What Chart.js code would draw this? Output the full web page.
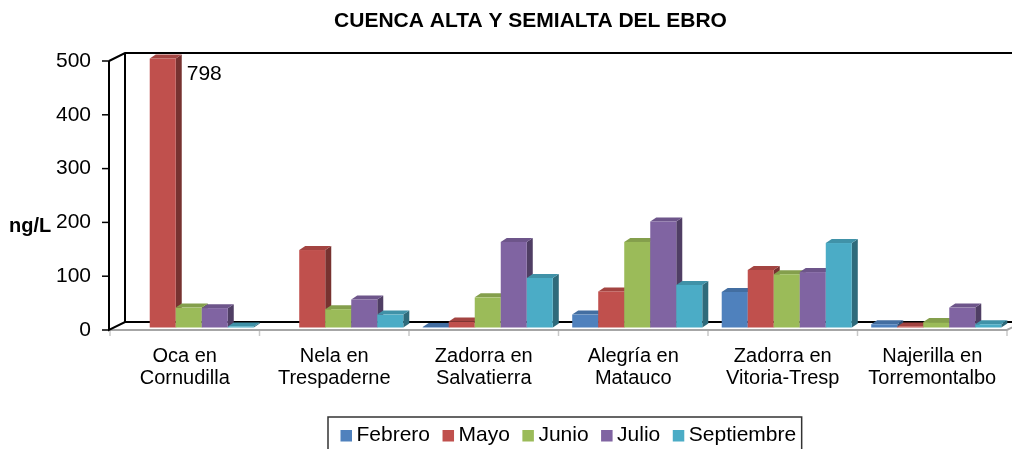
<!DOCTYPE html>
<html><head><meta charset="utf-8">
<script src="https://cdn.jsdelivr.net/npm/chart.js@4.4.0/dist/chart.umd.min.js"></script>
<style>html,body{margin:0;padding:0;background:#fff;overflow:hidden}</style>
</head><body>
<canvas id="c" width="1012" height="449"></canvas>
<script>
const categories = [['Oca en','Cornudilla'],['Nela en','Trespaderne'],['Zadorra en','Salvatierra'],['Alegría en','Matauco'],['Zadorra en','Vitoria-Tresp'],['Najerilla en','Torremontalbo']];
const seriesNames = ['Febrero','Mayo','Junio','Julio','Septiembre'];
const febrero = [null, null, 1, 24, 66, 6];
const mayo = [798, 144, 11, 67, 107, 2];
const junio = [37, 34, 56, 159, 99, 10];
const julio = [36, 52, 159, 197, 103, 37];
const septiembre = [2, 24, 92, 79, 157, 6];
const yTicks = [0, 100, 200, 300, 400, 500];
const titleText = 'CUENCA ALTA Y SEMIALTA DEL EBRO';
const yTitleText = 'ng/L';
const colors = ['#4F81BD','#C0504D','#9BBB59','#8064A2','#4BACC6'];

const FONT = '"Liberation Sans", Arial, sans-serif';
const dataSeries = [febrero, mayo, junio, julio, septiembre];
const Y_MAX = 500;
const DEPTH = {dx: 6, dy: -4};
const SHIFT = {dx: 4, dy: -2.5};
const WALL = {dx: 16, dy: -8};

function shade(hex, f){
  const n = parseInt(hex.slice(1), 16);
  const r = (n >> 16) & 255, g = (n >> 8) & 255, b = n & 255;
  return 'rgb(' + Math.round(r*f) + ',' + Math.round(g*f) + ',' + Math.round(b*f) + ')';
}

const excel3d = {
  id: 'excel3d',
  beforeDatasetsDraw(chart){
    const {ctx, chartArea: a} = chart;
    const W = chart.width;
    const fx = a.left - 1;
    const xs = chart.scales.x;
    const cw = (a.right - a.left) / categories.length;
    ctx.save();
    // front floor edge (grey)
    ctx.strokeStyle = '#a6a6a6'; ctx.lineWidth = 2;
    ctx.beginPath(); ctx.moveTo(fx, a.bottom); ctx.lineTo(a.right, a.bottom);
    ctx.lineTo(a.right + WALL.dx, a.bottom + WALL.dy); ctx.stroke();
    // category tick marks
    ctx.strokeStyle = '#c8c8c8'; ctx.lineWidth = 1.5;
    for (let k = 0; k <= categories.length; k++) {
      const x = xs.getPixelForValue(0) - cw/2 + k*cw;
      ctx.beginPath(); ctx.moveTo(x, a.bottom + 1); ctx.lineTo(x, a.bottom + 6); ctx.stroke();
    }
    // black frame
    ctx.strokeStyle = '#000'; ctx.lineWidth = 2;
    ctx.beginPath();
    ctx.moveTo(fx, a.top); ctx.lineTo(fx, a.bottom);
    ctx.lineTo(fx + WALL.dx, a.bottom + WALL.dy); ctx.lineTo(W, a.bottom + WALL.dy);
    ctx.moveTo(fx, a.top); ctx.lineTo(fx + WALL.dx, a.top + WALL.dy); ctx.lineTo(W, a.top + WALL.dy);
    ctx.moveTo(fx + WALL.dx, a.top + WALL.dy); ctx.lineTo(fx + WALL.dx, a.bottom + WALL.dy);
    ctx.stroke();
    // y tick marks
    ctx.lineWidth = 1.5;
    chart.scales.y.ticks.forEach(t => {
      const y = chart.scales.y.getPixelForValue(t.value);
      ctx.beginPath(); ctx.moveTo(fx - 7, y); ctx.lineTo(fx, y); ctx.stroke();
    });
    // bars
    for (let i = 0; i < categories.length; i++) {
      for (let d = 0; d < dataSeries.length; d++) {
        const v = dataSeries[d][i];
        if (v === null || v === undefined) continue;
        const el = chart.getDatasetMeta(d).data[i];
        const w = el.width;
        const x0 = el.x - w/2 + SHIFT.dx, x1 = x0 + w;
        const yt = Math.max(el.y, a.top) + SHIFT.dy;
        const yb = el.base + SHIFT.dy;
        const col = colors[d];
        ctx.fillStyle = shade(col, 0.62);
        ctx.beginPath();
        ctx.moveTo(x1, yb); ctx.lineTo(x1 + DEPTH.dx, yb + DEPTH.dy);
        ctx.lineTo(x1 + DEPTH.dx, yt + DEPTH.dy); ctx.lineTo(x1, yt); ctx.closePath(); ctx.fill();
        ctx.fillStyle = shade(col, 0.85);
        ctx.beginPath();
        ctx.moveTo(x0, yt); ctx.lineTo(x0 + DEPTH.dx, yt + DEPTH.dy);
        ctx.lineTo(x1 + DEPTH.dx, yt + DEPTH.dy); ctx.lineTo(x1, yt); ctx.closePath(); ctx.fill();
        ctx.fillStyle = col;
        ctx.fillRect(x0, yt, w, yb - yt);
        if (v > Y_MAX) {
          ctx.fillStyle = '#000';
          ctx.font = '21px ' + FONT;
          ctx.textAlign = 'left'; ctx.textBaseline = 'alphabetic';
          ctx.fillText(String(v), x1 + DEPTH.dx + 5, a.top + 19);
        }
      }
    }
    ctx.restore();
    return false;
  },
  afterDraw(chart){
    const {ctx} = chart;
    ctx.save();
    ctx.fillStyle = '#000';
    ctx.textBaseline = 'alphabetic';
    // title
    ctx.font = 'bold 21px ' + FONT;
    ctx.textAlign = 'center';
    ctx.fillText(titleText, 530.5, 27);
    // y title
    ctx.font = 'bold 20px ' + FONT;
    ctx.textAlign = 'left';
    ctx.fillText(yTitleText, 9, 232);
    // legend
    ctx.font = '21px ' + FONT;
    let x = 340.5;
    const sq = 11.5, top = 417;
    const start = x;
    seriesNames.forEach((name, d) => {
      ctx.fillStyle = colors[d];
      ctx.fillRect(x, 430, sq, sq);
      x += sq + 4.5;
      ctx.fillStyle = '#000';
      ctx.fillText(name, x, 441);
      x += ctx.measureText(name).width;
      if (d < seriesNames.length - 1) x += 12.5;
    });
    ctx.strokeStyle = '#333'; ctx.lineWidth = 1.5;
    ctx.strokeRect(start - 12.5, top, (x + 5.5) - (start - 12.5), 40);
    ctx.restore();
  }
};

new Chart(document.getElementById('c'), {
  type: 'bar',
  data: {
    labels: categories,
    datasets: seriesNames.map((n, d) => ({label: n, data: dataSeries[d], backgroundColor: colors[d]}))
  },
  options: {
    responsive: false,
    animation: false,
    devicePixelRatio: 1,
    layout: {padding: {top: 61, right: 5, left: 0, bottom: 0}},
    plugins: {legend: {display: false}, title: {display: false}, tooltip: {enabled: false}},
    datasets: {bar: {categoryPercentage: 0.87, barPercentage: 1}},
    scales: {
      x: {
        grid: {display: false, drawTicks: false},
        border: {display: false},
        ticks: {font: {family: FONT, size: 20, lineHeight: 1.1}, color: '#000', padding: 15, maxRotation: 0, autoSkip: false},
        afterFit(s){ s.height = 119; }
      },
      y: {
        min: 0, max: Y_MAX,
        afterBuildTicks(s){ s.ticks = yTicks.map(v => ({value: v})); },
        ticks: {font: {family: FONT, size: 21}, color: '#000', padding: 19},
        grid: {display: false, drawTicks: false},
        border: {display: false},
        afterFit(s){ s.width = 110; }
      }
    }
  },
  plugins: [excel3d]
});
</script>
</body></html>
